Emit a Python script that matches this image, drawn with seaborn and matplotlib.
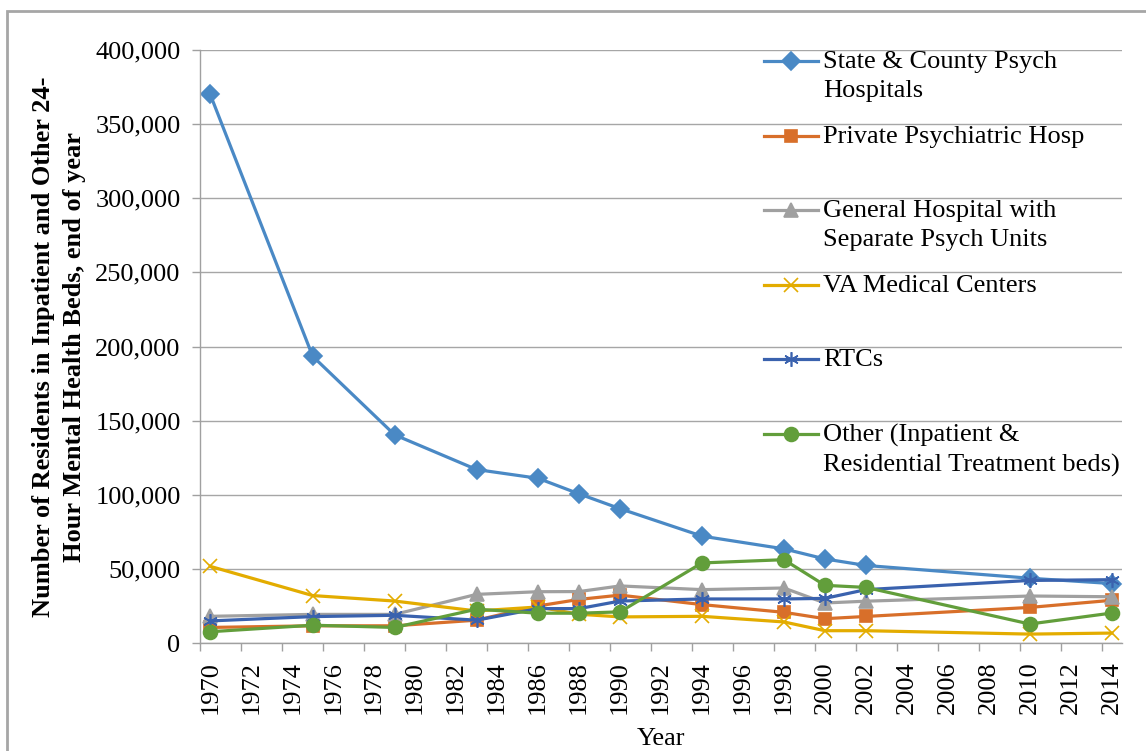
import numpy as np
import pandas as pd
import seaborn as sns
import matplotlib.pyplot as plt
from matplotlib.patches import Rectangle
from matplotlib.ticker import FuncFormatter, MultipleLocator

plt.rcParams['font.family'] = ['Liberation Serif', 'DejaVu Serif']

years = [1970, 1975, 1979, 1983, 1986, 1988, 1990, 1994, 1998, 2000, 2002, 2010, 2014]
state = [370000, 193400, 140400, 117000, 111100, 100600, 90600, 72100, 63500, 56700, 52300, 43700, 40100]
private = [10500, 11600, 11600, 15400, 25000, 29400, 32300, 25900, 20700, 16400, 17900, 24000, 28800]
general = [18000, 19300, 19300, 32800, 34600, 34700, 38500, 36000, 37100, 27000, 28200, 31700, 31200]
va = [51700, 32000, 28300, 21600, 24300, 19400, 17600, 18000, 14200, 8300, 8300, 6000, 6700]
rtc = [14900, 17800, 18700, 15400, 23200, 23200, 28300, 29700, 29700, 30100, 36000, 42200, 42700]
other = [7600, 12000, 10500, 22800, 20100, 20100, 21000, 54000, 56200, 38900, 37500, 12800, 20200]

series = ['State & County Psych Hospitals', 'Private Psychiatric Hosp',
          'General Hospital with Separate Psych Units', 'VA Medical Centers',
          'RTCs', 'Other (Inpatient & Residential Treatment beds)']
legend_labels = ['State & County Psych\nHospitals', 'Private Psychiatric Hosp',
                 'General Hospital with\nSeparate Psych Units', 'VA Medical Centers',
                 'RTCs', 'Other (Inpatient &\nResidential Treatment beds)']
colors = ['#4A89C5', '#D86F2A', '#A0A0A0', '#E3AC00', '#3A62AE', '#629E3B']
markers = ['D', 's', '^', 'x', (6, 2, 0), 'o']
msizes = [9, 9, 10, 10.5, 10.5, 10]

df = pd.DataFrame({'Year': years * 6,
                   'Residents': state + private + general + va + rtc + other,
                   'Type': np.repeat(series, len(years))})

fig = plt.figure(figsize=(11.46, 7.51), dpi=100)
ax = fig.add_axes([200/1146, 108/751, 922/1146, 593/751])

for name, c, m, ms in zip(series, colors, markers, msizes):
    sns.lineplot(data=df[df['Type'] == name], x='Year', y='Residents', color=c,
                 marker=m, markersize=ms, markeredgecolor=c, markeredgewidth=1.2,
                 lw=2.3, ax=ax)

ax.set_xlim(1969.5, 2014.5)
ax.set_ylim(0, 400000)
ax.yaxis.set_major_locator(MultipleLocator(50000))
ax.yaxis.set_major_formatter(FuncFormatter(lambda v, p: f'{int(v):,}'))
ax.set_xticks(range(1970, 2015, 2))
ax.set_xticks(np.arange(1969.5, 2014, 2), minor=True)
ax.tick_params(axis='x', which='major', length=0, pad=13, labelsize=19, labelrotation=90)
ax.tick_params(axis='x', which='minor', length=6, width=1, color='#A0A0A0')
ax.tick_params(axis='y', length=6, width=1, color='#A0A0A0', pad=8, labelsize=19)
ax.grid(axis='y', color='#A6A6A6', lw=1)
ax.set_axisbelow(True)
for s in ['top', 'right']:
    ax.spines[s].set_visible(False)
for s in ['left', 'bottom']:
    ax.spines[s].set_color('#A0A0A0')
    ax.spines[s].set_linewidth(1)

ax.set_xlabel('Year', fontsize=19, labelpad=10)
ax.set_ylabel('Number of Residents in Inpatient and Other 24-\nHour Mental Health Beds, end of year',
              fontsize=19, fontweight='bold', linespacing=1.45)
ax.yaxis.set_label_coords(-0.124, 0.5)

# legend drawn entry by entry so the rows line up with the gridlines
for i, (lab, c, m, ms) in enumerate(zip(legend_labels, colors, markers, msizes)):
    y = 0.981 - 0.1256 * i
    ax.plot([0.612, 0.670], [y, y], color=c, lw=2.3, transform=ax.transAxes, clip_on=False)
    ax.plot([0.641], [y], marker=m, ms=ms, color=c, mew=1.2, transform=ax.transAxes, clip_on=False)
    ax.text(0.676, y + 0.017, lab, fontsize=19, va='top', ha='left',
            linespacing=1.4, transform=ax.transAxes)

fig.add_artist(Rectangle((6.5/1146, -0.1), 1.2, 1.086, transform=fig.transFigure,
                         fill=False, edgecolor='#A6A6A6', lw=2))

plt.savefig('out.png', dpi=100)
